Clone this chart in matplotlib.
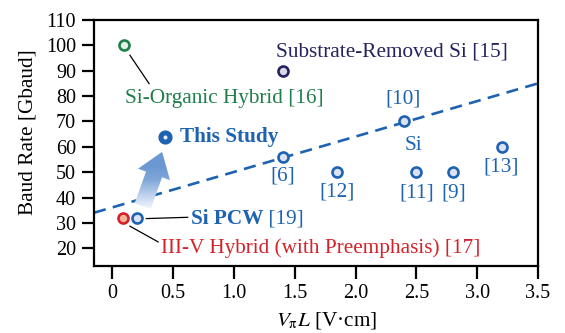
import numpy as np
import matplotlib
matplotlib.use("Agg")
import matplotlib.pyplot as plt
from matplotlib.patches import Polygon
from matplotlib.colors import LinearSegmentedColormap

plt.rcParams['font.family'] = ['Liberation Serif', 'DejaVu Serif']
plt.rcParams['mathtext.fontset'] = 'stix'

# reported Si modulators (VpiL [V*cm], baud rate [Gbaud])
si_x = [1.4, 1.85, 2.4, 2.5, 2.8, 3.2]
si_y = [56, 50, 70, 50, 50, 60]
si_refs = ['[6]', '[12]', '[10]', '[11]', '[9]', '[13]']

organic_x, organic_y = [0.1], [100]
substrate_x, substrate_y = [1.4], [90]
pcw_x, pcw_y = [0.2], [32]
iiiv_x, iiiv_y = [0.09], [32]
study_x, study_y = [0.43], [64]

# trend line through the Si devices
trend_x = [-0.15, 3.5]
trend_y = [34, 85]

# improvement arrow: tail -> tip
arrow_tail = (0.25, 36.6)
arrow_tip = (0.41, 58)

xticks = [0, 0.5, 1.0, 1.5, 2.0, 2.5, 3.0, 3.5]
yticks = [20, 30, 40, 50, 60, 70, 80, 90, 100, 110]

BLUE = '#1d63b1'
FACE = '#dde2f3'
GREEN = '#1f7f48'
NAVY = '#25235f'
RED = '#d3222a'
FS = 15.3

fig = plt.figure(figsize=(5.65, 3.33), dpi=100)
ax = fig.add_axes([0.1664, 0.2012, 0.7858, 0.7388])

ax.set_xlim(-0.15, 3.5)
ax.set_ylim(13, 110)
ax.set_xticks(xticks)
ax.set_xticklabels(['0', '0.5', '1.0', '1.5', '2.0', '2.5', '3.0', '3.5'])
ax.set_yticks(yticks)
ax.tick_params(direction='out', length=9, width=1.6, labelsize=14.5, pad=4,
               colors='black')
for s in ax.spines.values():
    s.set_linewidth(1.6)

ax.plot(trend_x, trend_y, color=BLUE, lw=1.9, dashes=(4.6, 2.8), zorder=2)

mk = dict(marker='o', ms=7.2, mew=1.9, ls='none', zorder=4)
ax.plot(si_x, si_y, mec=BLUE, mfc=FACE, **mk)
ax.plot(pcw_x, pcw_y, mec=BLUE, mfc=FACE, **mk)
ax.plot(organic_x, organic_y, mec=GREEN, mfc='#e4f1e6', **mk)
ax.plot(substrate_x, substrate_y, mec=NAVY, mfc='#d9d9ea', **mk)
ax.plot(iiiv_x, iiiv_y, mec=RED, mfc='#f3b49b', **mk)
ax.plot(study_x, study_y, marker='o', ms=6.6, mew=3.6, mec=BLUE, mfc='#e8ecf7',
        ls='none', zorder=5)

# reference labels of the Si devices
offsets = [(0, -14), (0, -14.5), (-1, 16.5), (0, -15), (1, -15), (0, -14.5)]
for x, y, ref, off in zip(si_x, si_y, si_refs, offsets):
    ax.annotate(ref, (x, y), xytext=off, textcoords='offset points',
                ha='center', va='center', color=BLUE, fontsize=FS)
ax.annotate('Si', (si_x[2], si_y[2]), xytext=(6.5, -17), textcoords='offset points',
            ha='center', va='center', color=BLUE, fontsize=FS)

ax.text(1.35, 97.5, 'Substrate-Removed Si [15]', color=NAVY, fontsize=FS,
        ha='left', va='center')
ax.text(0.104, 79.2, 'Si-Organic Hybrid [16]', color=GREEN, fontsize=FS,
        ha='left', va='center')
ax.plot([0.145, 0.303], [96.1, 84.9], color='black', lw=0.9, zorder=3)

ax.text(0.555, 64, 'This Study', color=BLUE, fontsize=FS, fontweight='bold',
        ha='left', va='center')

t = ax.text(0.645, 31.7, 'Si PCW', color=BLUE, fontsize=FS, fontweight='bold',
            ha='left', va='center')
ax.annotate(' [19]', xy=(1, 0), xycoords=t, ha='left', va='bottom',
            color=BLUE, fontsize=FS)
ax.plot([0.28, 0.62], [31.7, 32.2], color='black', lw=0.9, zorder=3)

ax.text(0.397, 20.1, 'III-V Hybrid (with Preemphasis) [17]', color=RED,
        fontsize=FS, ha='left', va='center')
ax.plot([0.145, 0.377], [28.7, 22.5], color='black', lw=0.9, zorder=3)

# gradient arrow, built in display space so the head keeps its shape
to_disp = ax.transData
T = np.array(to_disp.transform(arrow_tail))
P = np.array(to_disp.transform(arrow_tip))
u = (P - T) / np.linalg.norm(P - T)
n = np.array([-u[1], u[0]])
sw, hw, hl = 17, 34, 24
H = P - u * hl
pts = [T - n * sw / 2, H - n * sw / 2, H - n * hw / 2, P,
       H + n * hw / 2, H + n * sw / 2, T + n * sw / 2]
verts = to_disp.inverted().transform(np.array(pts))
arrow = Polygon(verts, closed=True, facecolor='none', edgecolor='none',
                transform=ax.transData, zorder=3)
ax.add_patch(arrow)

cmap = LinearSegmentedColormap.from_list(
    'fade', ['#f2f6fc', '#bcd0ec', '#80a7d9', '#6b98d2', '#6b98d2'])
x0, y0 = verts.min(axis=0)
x1, y1 = verts.max(axis=0)
grad = np.linspace(0, 1, 200).reshape(-1, 1)
im = ax.imshow(grad, extent=(x0, x1, y0, y1), origin='lower', cmap=cmap,
               aspect='auto', zorder=3, interpolation='bilinear')
im.set_clip_path(arrow)

ax.set_xlim(-0.15, 3.5)
ax.set_ylim(13, 110)

ax.set_ylabel('Baud Rate [Gbaud]', fontsize=FS)
ax.yaxis.set_label_coords(-0.128, 0.546)
ax.set_xlabel(r'$V_{\mathrm{\pi}}L$ [V·cm]', fontsize=FS)
ax.xaxis.set_label_coords(0.525, -0.18)

fig.savefig('out.png', dpi=100)
